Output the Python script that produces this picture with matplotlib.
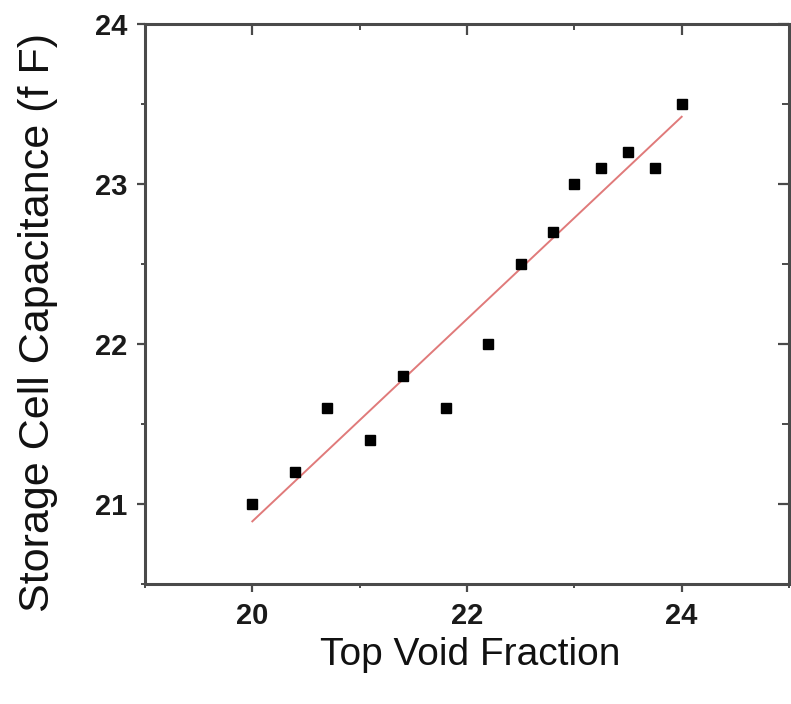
import numpy as np
import matplotlib
matplotlib.use("Agg")
import matplotlib.pyplot as plt
from matplotlib.ticker import MultipleLocator

plt.rcParams['font.family'] = ['Liberation Sans', 'DejaVu Sans']

# Measured points
void_fraction = [20.0, 20.4, 20.7, 21.1, 21.4, 21.8, 22.2, 22.5, 22.8, 23.0, 23.25, 23.5, 23.75, 24.0]
capacitance = [21.0, 21.2, 21.6, 21.4, 21.8, 21.6, 22.0, 22.5, 22.7, 23.0, 23.1, 23.2, 23.1, 23.5]

x_ticks = [20, 22, 24]
y_ticks = [21, 22, 23, 24]

fig = plt.figure(figsize=(7.91, 7.04), dpi=100)
ax = fig.add_axes([145 / 791, 1 - 584 / 704, (789 - 145) / 791, (584 - 24) / 704])

# Least-squares line through the measurements
slope, intercept = np.polyfit(void_fraction, capacitance, 1)
x_fit = np.array([min(void_fraction), max(void_fraction)])
ax.plot(x_fit, slope * x_fit + intercept, color='#e07a7a', lw=1.4, zorder=2)

ax.plot(void_fraction, capacitance, linestyle='none', marker='s', markersize=6.5,
        color='black', zorder=3)

ax.set_xlim(19, 25)
ax.set_ylim(20.5, 24)
ax.set_xticks(x_ticks)
ax.set_yticks(y_ticks)
ax.xaxis.set_minor_locator(MultipleLocator(1))
ax.yaxis.set_minor_locator(MultipleLocator(0.5))

spine_col = '#4a4a4a'
for s in ax.spines.values():
    s.set_color(spine_col)
    s.set_linewidth(2.2)

ax.tick_params(which='major', direction='out', length=6, width=1.6, color=spine_col,
               labelsize=21, pad=7)
ax.tick_params(which='minor', direction='out', length=3, width=1.4, color=spine_col)
for lab in ax.get_xticklabels() + ax.get_yticklabels():
    lab.set_fontweight('bold')
    lab.set_color('#1a1a1a')

# Inward ticks on the top and right frame
top = ax.secondary_xaxis('top')
top.set_xticks(x_ticks)
top.xaxis.set_minor_locator(MultipleLocator(1))
top.tick_params(which='major', direction='in', length=8, width=1.6, color=spine_col, labeltop=False)
top.tick_params(which='minor', direction='in', length=4, width=1.4, color=spine_col)
top.spines['top'].set_visible(False)

right = ax.secondary_yaxis('right')
right.set_yticks(y_ticks)
right.yaxis.set_minor_locator(MultipleLocator(0.5))
right.tick_params(which='major', direction='in', length=8, width=1.6, color=spine_col, labelright=False)
right.tick_params(which='minor', direction='in', length=5, width=1.4, color=spine_col)
right.spines['right'].set_visible(False)

fig.text(470 / 791, 1 - 655 / 704, 'Top Void Fraction', fontsize=28, ha='center',
         va='center', color='#111111')
fig.text(38 / 791, 1 - 322 / 704, 'Storage Cell Capacitance (f F)', fontsize=31,
         rotation=90, ha='center', va='center', color='#111111')

fig.savefig('out.png', dpi=100)
